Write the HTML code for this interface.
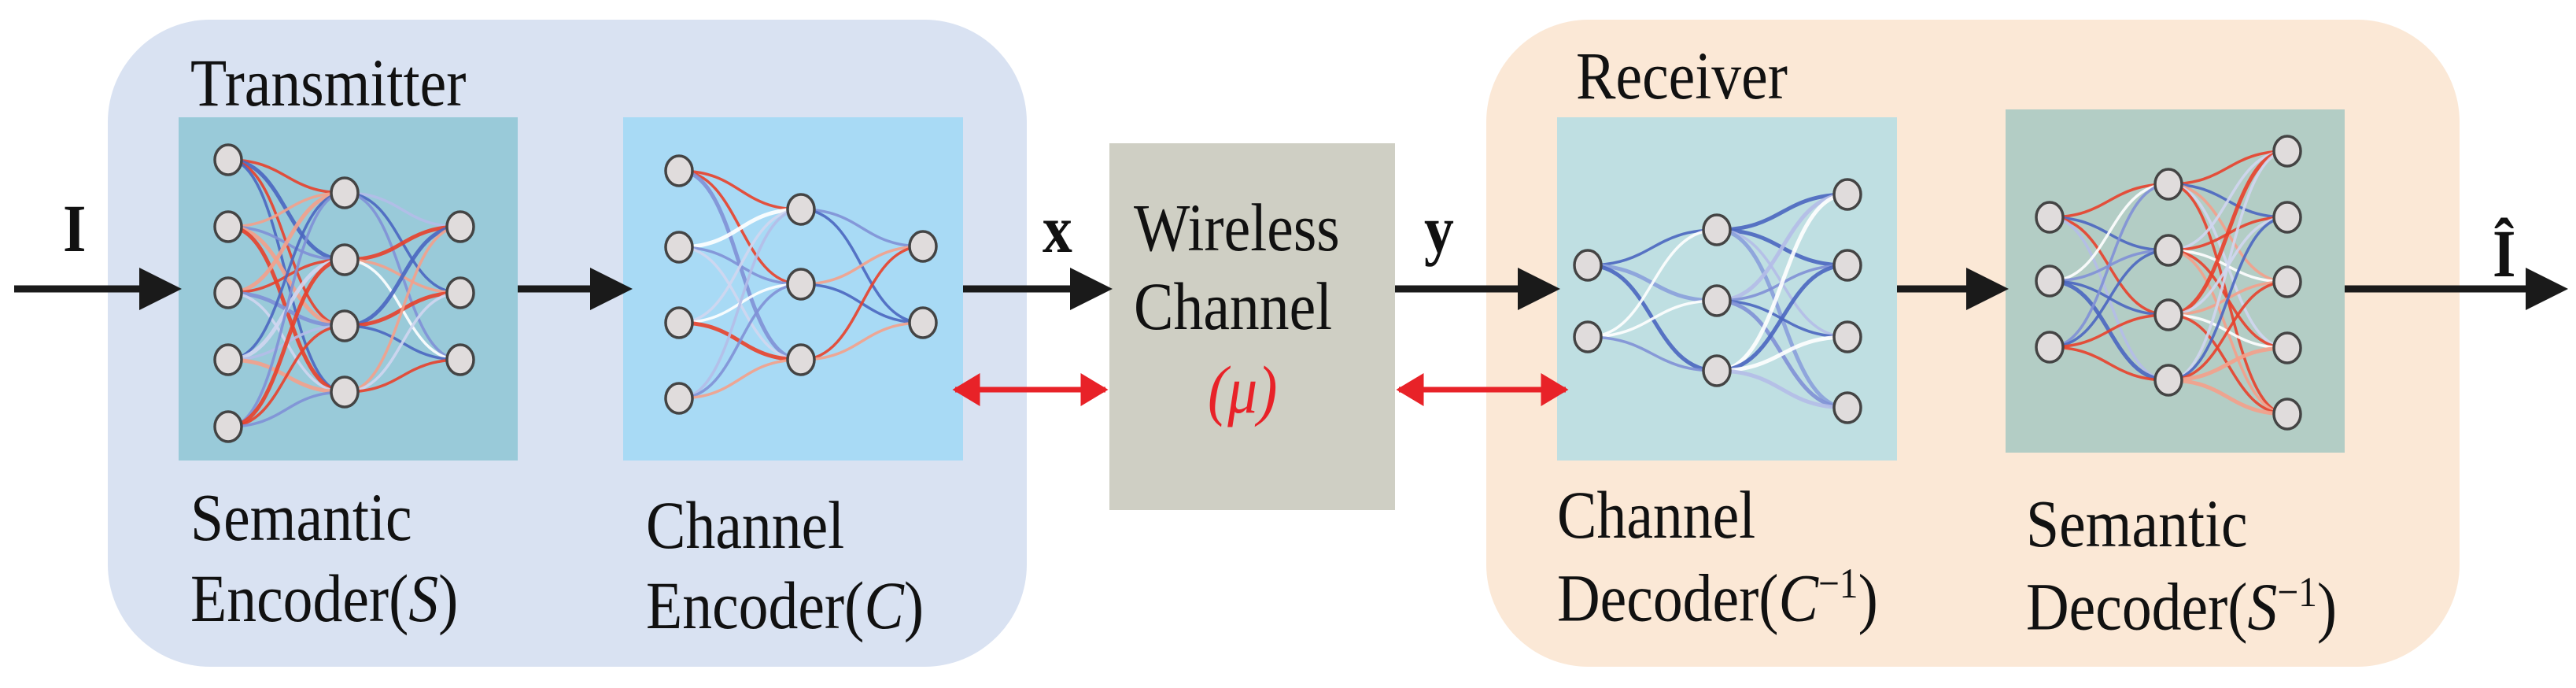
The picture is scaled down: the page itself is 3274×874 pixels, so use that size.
<!DOCTYPE html>
<html><head><meta charset="utf-8">
<style>
body{margin:0;width:3274px;height:874px;background:#fff;overflow:hidden;position:relative;}
svg{position:absolute;left:0;top:0}
.t{position:absolute;font-family:"Times New Roman","Liberation Serif",Times,serif;font-weight:400;font-size:86px;line-height:1;color:#111;white-space:nowrap;transform:scaleX(0.88);transform-origin:left bottom}
</style></head><body>
<svg id="s" width="3274" height="874" viewBox="0 0 3274 874">
<defs>
<marker id="ab" markerWidth="6" markerHeight="6" refX="5" refY="3" orient="auto" markerUnits="strokeWidth"><path d="M0,0 L6,3 L0,6 Z" fill="#1a1a1a"/></marker>
<marker id="ar" markerWidth="5" markerHeight="6" refX="4.5" refY="3" orient="auto-start-reverse" markerUnits="strokeWidth"><path d="M0,0 L5,3 L0,6 Z" fill="#e82228"/></marker>
</defs>
<rect x="137" y="25" width="1168" height="822" rx="130" fill="#d9e2f2"/>
<rect x="1889" y="25" width="1237" height="822" rx="130" fill="#fbe8d6"/>
<rect x="227" y="149" width="431" height="436" fill="#99cad9"/>
<rect x="792" y="149" width="432" height="436" fill="#a8daf5"/>
<rect x="1410" y="182" width="363" height="466" fill="#cfcfc4"/>
<rect x="1979" y="149" width="432" height="436" fill="#bfdfe2"/>
<rect x="2549" y="139" width="431" height="436" fill="#b3cdc5"/>
<g id="nets"></g>
<g stroke="#1a1a1a" stroke-width="9" fill="none">
<line x1="18" y1="367" x2="222" y2="367" marker-end="url(#ab)"/>
<line x1="658" y1="367" x2="795" y2="367" marker-end="url(#ab)"/>
<line x1="1224" y1="367" x2="1405" y2="367" marker-end="url(#ab)"/>
<line x1="1773" y1="367" x2="1974" y2="367" marker-end="url(#ab)"/>
<line x1="2411" y1="367" x2="2544" y2="367" marker-end="url(#ab)"/>
<line x1="2980" y1="367" x2="3255" y2="367" marker-end="url(#ab)"/>
</g>
<g stroke="#e82228" stroke-width="7" fill="none">
<line x1="1214" y1="495" x2="1405" y2="495" marker-start="url(#ar)" marker-end="url(#ar)"/>
<line x1="1778" y1="495" x2="1990" y2="495" marker-start="url(#ar)" marker-end="url(#ar)"/>
</g>
</svg>
<div class="t" style="left:242px;top:62px">Transmitter</div>
<div class="t" style="left:242px;top:614px">Semantic</div>
<div class="t" style="left:242px;top:717px">Encoder(<i>S</i>)</div>
<div class="t" style="left:821px;top:624px">Channel</div>
<div class="t" style="left:821px;top:726px">Encoder(<i>C</i>)</div>
<div class="t" style="left:1441px;top:246px">Wireless</div>
<div class="t" style="left:1441px;top:346px">Channel</div>
<div class="t" style="left:1535px;top:452px;color:#e82228"><i>(μ)</i></div>
<div class="t" style="left:2003px;top:53px">Receiver</div>
<div class="t" style="left:1979px;top:611px">Channel</div>
<div class="t" style="left:1979px;top:714px">Decoder(<i>C</i><sup style="font-size:54px">−1</sup>)</div>
<div class="t" style="left:2575px;top:622px">Semantic</div>
<div class="t" style="left:2575px;top:725px">Decoder(<i>S</i><sup style="font-size:54px">−1</sup>)</div>
<div class="t" style="left:80px;top:247px;font-weight:bold">I</div>
<div class="t" style="left:1325px;top:248px;font-weight:bold">x</div>
<div class="t" style="left:1810px;top:248px;font-weight:bold">y</div>
<div class="t" style="left:3168px;top:279px;font-weight:bold">Î</div>
<script>
var nets=[
 [[290,[203,288,372,457,542]],[438,[245,330,414,498]],[585,[288,372,457]]],
 [[863,[217,314,410,506]],[1018,[266,361,457]],[1173,[313,410]]],
 [[2018,[337,428]],[2182,[292,382,471]],[2348,[247,337,428,518]]],
 [[2605,[276,357,441]],[2756,[234,318,400,483]],[2907,[192,276,358,442,526]]]
];
var pal=[["#e8402a","#f08a70","#f8c4b2","#ffffff","#fbe0d6"],["#4a66c0","#7f90d6","#b4bde8","#ffffff","#8aa0dc"],["#4a66c0","#7f90d6","#b4bde8","#e8402a","#f4a08a","#ffffff","#d0d6f0"]];
var pi=[2,2,1,2];
var seed=7;function r(){seed=(seed*9301+49297)%233280;return seed/233280;}
var g=document.getElementById('nets'),h='';
nets.forEach(function(n,k){
 var P=pal[pi[k]];
 for(var l=0;l<n.length-1;l++){var a=n[l],b=n[l+1],mx=(a[0]+b[0])/2;
  a[1].forEach(function(y1){b[1].forEach(function(y2){
   var c=P[Math.floor(r()*P.length)];
   h+='<path d="M'+a[0]+','+y1+' C'+mx+','+y1+' '+mx+','+y2+' '+b[0]+','+y2+'" stroke="'+c+'" stroke-width="'+(r()<0.3?5:3.5)+'" fill="none" opacity="0.9"/>';
  });});
 }
 n.forEach(function(L){L[1].forEach(function(y){h+='<ellipse cx="'+L[0]+'" cy="'+y+'" rx="17" ry="19" fill="#e0dcdc" stroke="#444" stroke-width="3.5"/>';});});
});
g.innerHTML=h;
</script>
</body></html>
